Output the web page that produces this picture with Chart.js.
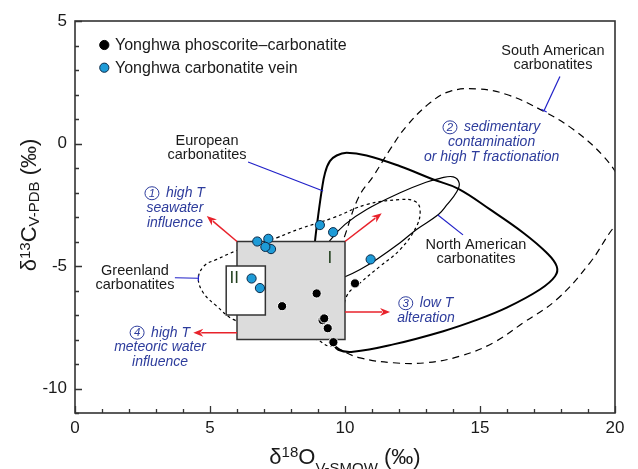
<!DOCTYPE html>
<html>
<head>
<meta charset="utf-8">
<script src="https://cdn.jsdelivr.net/npm/chart.js@4/dist/chart.umd.min.js"></script>
<style>
  html, body { margin: 0; padding: 0; background: #fff; }
  #wrap { width: 638px; height: 469px; position: relative; }
</style>
</head>
<body>
<div id="wrap"><canvas id="chart"></canvas></div>
<script>
// ---- sample series (δ18O V-SMOW ‰, δ13C V-PDB ‰) ----
const seriesNames = ['Yonghwa phoscorite–carbonatite', 'Yonghwa carbonatite vein'];
const phoscoriteX = [9.17, 9.23, 8.95, 7.67, 10.37, 9.36, 9.57];
const phoscoriteY = [-7.21, -7.14, -6.12, -6.64, -5.71, -7.54, -8.11];
const veinX = [6.75, 7.16, 7.26, 7.05, 9.07, 9.56, 10.95, 6.54, 6.85];
const veinY = [-4.00, -3.89, -4.31, -4.22, -3.33, -3.62, -4.73, -5.51, -5.90];

// ---- axis tick labels ----
const xTickLabels = [0, 5, 10, 15, 20];
const yTickLabels = [-10, -5, 0, 5];

// ---- carbonatite field outlines ----
const europeanX = [8.85, 8.89, 9.0, 9.14, 9.26, 9.44, 9.69, 10.06, 10.8, 12.04, 13.27, 14.2, 15.37, 16.6, 17.47, 17.84, 17.78, 17.22, 15.99, 14.88, 13.64, 11.79, 10.3, 9.75, 9.55];
const europeanY = [-4.6, -3.98, -3.0, -1.9, -1.2, -0.72, -0.49, -0.38, -0.49, -0.93, -1.47, -1.85, -2.69, -3.64, -4.46, -5.01, -5.42, -5.96, -6.7, -7.2, -7.66, -8.2, -8.5, -8.42, -8.15];

const northAmericanX = [9.1, 9.44, 10.0, 10.8, 12.04, 13.0, 13.52, 14.01, 14.23, 14.14, 13.77, 13.46, 12.65, 12.04, 11.17, 10.56, 10.0, 9.6];
const northAmericanY = [-4.6, -3.96, -3.3, -2.69, -2.01, -1.58, -1.42, -1.36, -1.62, -1.97, -2.51, -2.9, -3.51, -4.05, -4.73, -5.14, -5.44, -5.6];

const greenlandX = [7.47, 8.33, 9.57, 10.8, 12.04, 12.59, 12.78, 12.65, 12.04, 11.3, 10.56, 10.06, 9.9, 9.65, 9.4, 8.95, 8.0, 6.8, 5.86, 5.25, 4.75, 4.57, 4.8, 5.25, 5.99, 6.8, 7.47];
const greenlandY = [-3.85, -3.48, -3.03, -2.49, -2.29, -2.36, -2.69, -3.38, -4.33, -5.01, -5.69, -6.23, -7.3, -8.15, -8.27, -8.0, -7.75, -7.5, -7.18, -6.64, -6.09, -5.48, -4.98, -4.73, -4.37, -4.05, -3.85];

const southAmericanX = [9.5, 9.95, 10.5, 11.05, 11.67, 12.28, 13.15, 13.89, 14.88, 15.99, 17.35, 18.46, 19.57, 20.25, 20.5, 20.3, 19.94, 19.07, 17.84, 16.6, 15.5, 14.26, 13.0, 11.79, 10.56, 9.81, 9.5];
const southAmericanY = [-5.2, -3.9, -2.2, -1.33, -0.24, 0.71, 1.66, 2.13, 2.23, 2.0, 1.32, 0.57, -0.52, -1.6, -2.4, -3.1, -3.44, -4.87, -6.37, -7.32, -8.13, -8.68, -8.95, -8.95, -8.75, -8.4, -8.1];

// ---- isotopic boxes I and II ----
const boxIX = [6, 10];
const boxIY = [-8, -4];
const boxIIX = [5.6, 7.05];
const boxIIY = [-7, -5];

// ---- alteration trend arrows: [x0, y0, x1, y1] ----
const trendArrows = [
  [6, -4, 4.88, -2.96],
  [10, -4, 11.36, -2.85],
  [10, -6.88, 11.67, -6.88],
  [6, -7.72, 4.38, -7.72]
];

const FONT = '"Liberation Sans", Arial, Helvetica, sans-serif';
const BLUE_TXT = '#2d3c9c';
const toXY = (xs, ys) => xs.map((x, i) => ({ x: x, y: ys[i] }));

function curve(label, xs, ys, width, dash) {
  return {
    label: label,
    data: toXY(xs, ys),
    showLine: true,
    pointRadius: 0,
    pointHoverRadius: 0,
    borderColor: '#000',
    backgroundColor: '#000',
    borderWidth: width,
    borderDash: dash,
    tension: 0.4,
    fill: false
  };
}

// text annotations, anchored in data units; num = circled process number
const notes = [
  { lines: ['European', 'carbonatites'], x: 4.89, y: 0.10, blue: false },
  { lines: ['South American', 'carbonatites'], x: 17.7, y: 3.79, blue: false },
  { lines: ['sedimentary', 'contamination', 'or high T fractionation'], num: '2', x: 15.43, y: 0.66, blue: true },
  { lines: ['North American', 'carbonatites'], x: 14.85, y: -4.14, blue: false },
  { lines: ['low T', 'alteration'], num: '3', x: 13.0, y: -6.52, blue: true },
  { lines: ['high T', 'seawater', 'influence'], num: '1', x: 3.7, y: -2.03, blue: true },
  { lines: ['Greenland', 'carbonatites'], x: 2.22, y: -5.2, blue: false },
  { lines: ['high T', 'meteoric water', 'influence'], num: '4', x: 3.15, y: -7.72, blue: true }
];

// leader lines from labels to outlines [x0, y0, x1, y1, endTick]
const leaders = [
  [6.41, -0.755, 9.19, -1.94, false],
  [17.96, 2.73, 17.37, 1.34, true],
  [14.37, -3.73, 13.44, -2.92, false],
  [3.7, -5.48, 4.57, -5.5, true]
];

function drawRich(ctx, parts, x, y) {
  let total = 0;
  parts.forEach(p => { ctx.font = p.size + 'px ' + FONT; p.w = ctx.measureText(p.t).width; total += p.w; });
  let cx = x - total / 2;
  ctx.textAlign = 'left';
  ctx.textBaseline = 'alphabetic';
  parts.forEach(p => {
    ctx.font = p.size + 'px ' + FONT;
    ctx.fillText(p.t, cx, y + (p.dy || 0));
    cx += p.w;
  });
}

const overlay = {
  id: 'overlay',
  beforeDatasetDraw(chart, args) {
    if (args.index !== 1) return;
    const ctx = chart.ctx, xs = chart.scales.x, ys = chart.scales.y;
    ctx.save();
    const rect = (bx, by, fillC) => {
      const x0 = xs.getPixelForValue(bx[0]), x1 = xs.getPixelForValue(bx[1]);
      const y0 = ys.getPixelForValue(by[1]), y1 = ys.getPixelForValue(by[0]);
      ctx.fillStyle = fillC;
      ctx.fillRect(x0, y0, x1 - x0, y1 - y0);
      ctx.lineWidth = 1.5;
      ctx.strokeStyle = '#333';
      ctx.strokeRect(x0, y0, x1 - x0, y1 - y0);
    };
    rect(boxIX, boxIY, '#dcdcdc');
    rect(boxIIX, boxIIY, '#ffffff');
    ctx.fillStyle = '#23401f';
    ctx.font = '17px ' + FONT;
    ctx.textAlign = 'center';
    ctx.textBaseline = 'middle';
    ctx.fillText('I', xs.getPixelForValue(9.44), ys.getPixelForValue(-4.69));
    ctx.fillText('II', xs.getPixelForValue(5.9), ys.getPixelForValue(-5.5));
    ctx.restore();
  },
  afterDatasetsDraw(chart) {
    const ctx = chart.ctx, xs = chart.scales.x, ys = chart.scales.y, a = chart.chartArea;
    const px = v => xs.getPixelForValue(v), py = v => ys.getPixelForValue(v);
    ctx.save();

    // trend arrows
    trendArrows.forEach(([x0, y0, x1, y1]) => {
      const X0 = px(x0), Y0 = py(y0), X1 = px(x1), Y1 = py(y1);
      const ang = Math.atan2(Y1 - Y0, X1 - X0);
      const hl = 10, hw = 4;
      ctx.strokeStyle = '#e8222b';
      ctx.fillStyle = '#e8222b';
      ctx.lineWidth = 1.5;
      ctx.beginPath();
      ctx.moveTo(X0, Y0);
      ctx.lineTo(X1 - Math.cos(ang) * (hl - 2), Y1 - Math.sin(ang) * (hl - 2));
      ctx.stroke();
      ctx.beginPath();
      ctx.moveTo(X1, Y1);
      ctx.lineTo(X1 - Math.cos(ang) * hl - Math.sin(ang) * hw, Y1 - Math.sin(ang) * hl + Math.cos(ang) * hw);
      ctx.lineTo(X1 - Math.cos(ang) * (hl - 3), Y1 - Math.sin(ang) * (hl - 3));
      ctx.lineTo(X1 - Math.cos(ang) * hl + Math.sin(ang) * hw, Y1 - Math.sin(ang) * hl - Math.cos(ang) * hw);
      ctx.closePath();
      ctx.fill();
    });

    // leader lines
    ctx.strokeStyle = '#2020c8';
    ctx.lineWidth = 1.2;
    leaders.forEach(([x0, y0, x1, y1, tick]) => {
      const X0 = px(x0), Y0 = py(y0), X1 = px(x1), Y1 = py(y1);
      ctx.beginPath();
      ctx.moveTo(X0, Y0);
      ctx.lineTo(X1, Y1);
      ctx.stroke();
      if (tick) {
        const ang = Math.atan2(Y1 - Y0, X1 - X0);
        ctx.beginPath();
        ctx.moveTo(X1 - Math.sin(ang) * 3, Y1 + Math.cos(ang) * 3);
        ctx.lineTo(X1 + Math.sin(ang) * 3, Y1 - Math.cos(ang) * 3);
        ctx.stroke();
      }
    });

    // annotation text (first line of process notes carries a circled number)
    ctx.textBaseline = 'middle';
    notes.forEach(n => {
      ctx.font = n.blue ? 'italic 14px ' + FONT : '14.5px ' + FONT;
      ctx.fillStyle = n.blue ? BLUE_TXT : '#1a1a1a';
      const lh = n.blue ? 14.7 : 14;
      const cx = px(n.x), cy = py(n.y);
      n.lines.forEach((t, i) => {
        const y = cy + i * lh;
        if (i === 0 && n.num) {
          const r = 7, gap = 7;
          const tw = ctx.measureText(t).width;
          const total = 2 * r + gap + tw;
          const left = cx - total / 2;
          ctx.save();
          ctx.strokeStyle = BLUE_TXT;
          ctx.lineWidth = 1;
          ctx.beginPath();
          ctx.ellipse(left + r, y, r, r - 0.5, 0, 0, Math.PI * 2);
          ctx.stroke();
          ctx.font = 'italic 11.5px ' + FONT;
          ctx.textAlign = 'center';
          ctx.fillText(n.num, left + r, y + 0.5);
          ctx.restore();
          ctx.textAlign = 'left';
          ctx.fillText(t, left + 2 * r + gap, y);
        } else {
          ctx.textAlign = 'center';
          ctx.fillText(t, cx, y);
        }
      });
    });

    // plot frame with inward ticks
    ctx.strokeStyle = '#333';
    ctx.lineWidth = 1.6;
    ctx.strokeRect(a.left, a.top, a.right - a.left, a.bottom - a.top);
    ctx.lineWidth = 1.3;
    ctx.beginPath();
    for (let v = Math.ceil(xs.min); v <= xs.max; v++) {
      const len = xTickLabels.includes(v) ? 7 : 4;
      const X = Math.round(px(v)) + 0.5;
      ctx.moveTo(X, a.bottom);
      ctx.lineTo(X, a.bottom - len);
    }
    for (let v = Math.ceil(ys.min); v <= ys.max; v++) {
      const len = yTickLabels.includes(v) ? 7 : 4;
      const Y = Math.round(py(v)) + 0.5;
      ctx.moveTo(a.left, Y);
      ctx.lineTo(a.left + len, Y);
    }
    ctx.stroke();

    // legend
    const ds = chart.data.datasets;
    [0, 1].forEach(i => {
      const cy = 45 + i * 22.7;
      ctx.beginPath();
      ctx.arc(104.3, cy, 4.6, 0, Math.PI * 2);
      ctx.fillStyle = ds[i].backgroundColor;
      ctx.fill();
      ctx.lineWidth = 1;
      ctx.strokeStyle = i === 0 ? '#000' : ds[i].borderColor;
      ctx.stroke();
      ctx.fillStyle = '#1a1a1a';
      ctx.font = '16px ' + FONT;
      ctx.textAlign = 'left';
      ctx.textBaseline = 'middle';
      ctx.fillText(ds[i].label, 115, cy + 1);
    });

    // axis titles
    ctx.fillStyle = '#1a1a1a';
    drawRich(ctx, [
      { t: 'δ', size: 22 },
      { t: '18', size: 15, dy: -7 },
      { t: 'O', size: 22 },
      { t: 'V-SMOW', size: 15, dy: 9 },
      { t: ' (‰)', size: 22 }
    ], (a.left + a.right) / 2, 464);
    ctx.save();
    ctx.translate(36, 205);
    ctx.rotate(-Math.PI / 2);
    drawRich(ctx, [
      { t: 'δ', size: 22 },
      { t: '13', size: 15, dy: -6 },
      { t: 'C', size: 22 },
      { t: 'V-PDB', size: 15, dy: 3 },
      { t: ' (‰)', size: 22 }
    ], 0, 0);
    ctx.restore();

    ctx.restore();
  }
};

new Chart(document.getElementById('chart'), {
  type: 'scatter',
  data: {
    datasets: [
      {
        label: seriesNames[0],
        data: toXY(phoscoriteX, phoscoriteY),
        backgroundColor: '#000',
        borderColor: '#fff',
        borderWidth: 1,
        pointRadius: 4.6,
        pointHoverRadius: 4.6
      },
      {
        label: seriesNames[1],
        data: toXY(veinX, veinY),
        backgroundColor: '#1e9bd7',
        borderColor: '#0c2a48',
        borderWidth: 1,
        pointRadius: 4.6,
        pointHoverRadius: 4.6
      },
      curve('European carbonatites', europeanX, europeanY, 2, []),
      curve('North American carbonatites', northAmericanX, northAmericanY, 1.2, []),
      curve('Greenland carbonatites', greenlandX, greenlandY, 1.2, [3, 3]),
      curve('South American carbonatites', southAmericanX, southAmericanY, 1.2, [7, 5])
    ]
  },
  options: {
    responsive: true,
    maintainAspectRatio: false,
    animation: false,
    events: [],
    layout: { padding: { top: 21, right: 23, left: 0, bottom: 0 } },
    plugins: { legend: { display: false }, tooltip: { enabled: false } },
    scales: {
      x: {
        type: 'linear',
        min: 0, max: 20,
        grid: { display: false, drawTicks: false },
        border: { display: false },
        afterBuildTicks: s => { s.ticks = xTickLabels.map(v => ({ value: v })); },
        afterFit: s => { s.height = 56; },
        ticks: { padding: 5, color: '#1a1a1a', font: { family: FONT, size: 17 }, maxRotation: 0 }
      },
      y: {
        type: 'linear',
        min: -11, max: 5,
        grid: { display: false, drawTicks: false },
        border: { display: false },
        afterBuildTicks: s => { s.ticks = yTickLabels.map(v => ({ value: v })); },
        afterFit: s => { s.width = 75; },
        ticks: { padding: 8, color: '#1a1a1a', font: { family: FONT, size: 17 } }
      }
    }
  },
  plugins: [overlay]
});
</script>
</body>
</html>
